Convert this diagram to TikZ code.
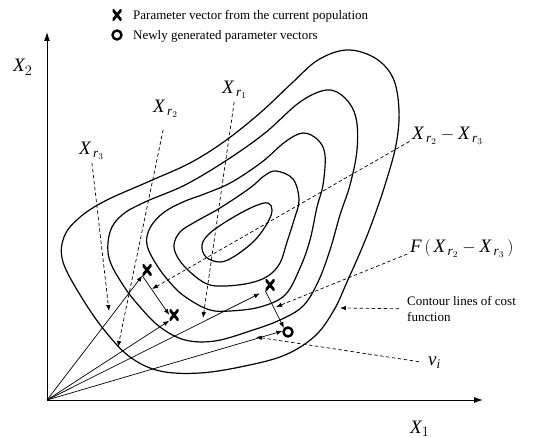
\documentclass[tikz,border=0pt]{standalone}
\usepackage{fontspec}
\setmainfont{Liberation Serif}
\usetikzlibrary{arrows.meta}
\begin{document}
\begin{tikzpicture}[x=1pt,y=-1pt,
  contour/.style={line width=1.2pt,smooth cycle,tension=0.6},
  axis/.style={line width=0.9pt,-{Latex[length=9pt,width=6pt]}},
  vec/.style={line width=0.7pt,-{Latex[length=6pt,width=4.5pt]}},
  hint/.style={line width=0.7pt,dash pattern=on 3.5pt off 2.5pt,shorten <=3pt,-{Latex[length=6pt,width=4.5pt]}},
  xmark/.style={minimum width=9pt,minimum height=11pt,inner sep=0pt,
    path picture={\draw[line width=2.8pt] (path picture bounding box.south west) -- (path picture bounding box.north east)
      (path picture bounding box.north west) -- (path picture bounding box.south east);}},
  omark/.style={circle,draw,line width=2.4pt,minimum size=9pt,inner sep=0pt},
  sym/.style={anchor=base west,inner sep=0pt,font=\fontsize{19}{22}\selectfont},
  txt/.style={anchor=base west,inner sep=0pt,font=\fontsize{13}{16}\selectfont}]
\useasboundingbox (0,0) rectangle (533,438);

\node[xmark] (kx) at (117,15) {};
\node[txt] (kxt) at (133,20) {Parameter vector from the current population};
\node[omark] (ko) at (117,35) {};
\node[txt] (kot) at (133,40) {Newly generated parameter vectors};

\draw[contour] plot coordinates {(347,50) (375,58) (393,78) (399,110) (396,145) (385,185) (373,220) (362,248) (347,282) (334,310) (315,336) (285,355) (245,366) (200,373) (160,371) (130,357) (105,331) (82,298) (63,262) (64,237) (79,218) (105,201) (150,181) (190,163) (225,141) (260,113) (292,83) (318,60)};
\draw[contour] plot coordinates {(327,90) (345,98) (356,118) (357,150) (350,185) (340,215) (330,250) (318,282) (303,306) (280,320) (250,331) (215,341) (185,340) (160,327) (140,307) (123,285) (109,258) (110,232) (122,215) (145,202) (185,185) (227,160) (265,133) (300,102)};
\draw[contour] plot coordinates {(303,133) (318,140) (325,155) (323,185) (317,207) (310,240) (300,268) (285,295) (260,307) (230,311) (210,310) (190,300) (175,288) (158,267) (147,245) (150,228) (163,213) (183,202) (207,193) (232,182) (262,162) (285,142)};
\draw[contour] plot coordinates {(276,171) (293,179) (299,200) (294,220) (287,242) (280,263) (268,276) (250,283) (225,286) (207,284) (190,272) (178,258) (174,245) (180,232) (195,222) (220,208) (250,188) (264,176)};
\draw[contour] plot coordinates {(268,203) (272,210) (268,222) (255,240) (235,256) (220,262) (206,257) (202,245) (210,233) (232,218) (255,206)};

\coordinate (O) at (47,400);
\coordinate (ytop) at (47,32);
\coordinate (xend) at (483,400);
\draw[axis] (O) -- (ytop);
\draw[axis] (O) -- (xend);
\node[sym] (lx2) at (13,72) {$\mathit{X}_2$};
\node[sym] (lx1) at (410,433) {$\mathit{X}_1$};

\node[xmark] (p1) at (147,270) {};
\node[xmark] (p2) at (174,315) {};
\node[xmark] (p3) at (270,285) {};
\node[omark] (u) at (288,332) {};

\draw[vec] (O) -- (p1.south west);
\draw[vec] (O) -- (p2.south west);
\draw[vec, shorten >=6pt] (O) -- (p3.south west);
\draw[vec] (O) -- (u.170);
\draw[vec] (p1.south west) -- (p2.west);
\draw[vec] (p3.south west) -- (u.135);

\node[sym] (lr1) at (222,94) {$\mathit{X}_{\,\mathit{r}_1}$};
\node[sym] (lr2) at (153,113) {$\mathit{X}_{\,\mathit{r}_2}$};
\node[sym] (lr3) at (79,155) {$\mathit{X}_{\,\mathit{r}_3}$};
\node[sym] (ld) at (412,140) {$\mathit{X}_{\,\mathit{r}_2}-\mathit{X}_{\,\mathit{r}_3}$};
\node[sym] (lf) at (410,253) {$\mathit{F}\,\Bigl(\,\mathit{X}_{\,\mathit{r}_2}-\mathit{X}_{\,\mathit{r}_3}\,\Bigr)$};
\node[anchor=north west,inner sep=0pt,align=left,font=\fontsize{13}{16}\selectfont] (lc) at (407,296) {Contour lines of cost\\function};
\node[sym] (lv) at (428,366) {$\mathit{v}_\mathit{i}$};

\coordinate (t1) at (203,318);
\coordinate (t2) at (118,347);
\coordinate (t3) at (109,311);
\coordinate (td) at (152,289);
\coordinate (tf) at (276,307);
\coordinate (tc) at (340,308);
\coordinate (tv) at (256,337);

\draw[hint] (lr1.south) -- (t1);
\draw[hint, shorten <=12pt] (lr2.south) -- (t2);
\draw[hint] (lr3.south) -- (t3);
\draw[hint] (ld.base west) -- (td);
\draw[hint] (lf.base west) -- (tf);
\draw[hint, shorten <=8pt] (lc.west) -- (tc);
\draw[hint, shorten <=9pt] (lv.west) -- (tv);
\end{tikzpicture}
\end{document}
